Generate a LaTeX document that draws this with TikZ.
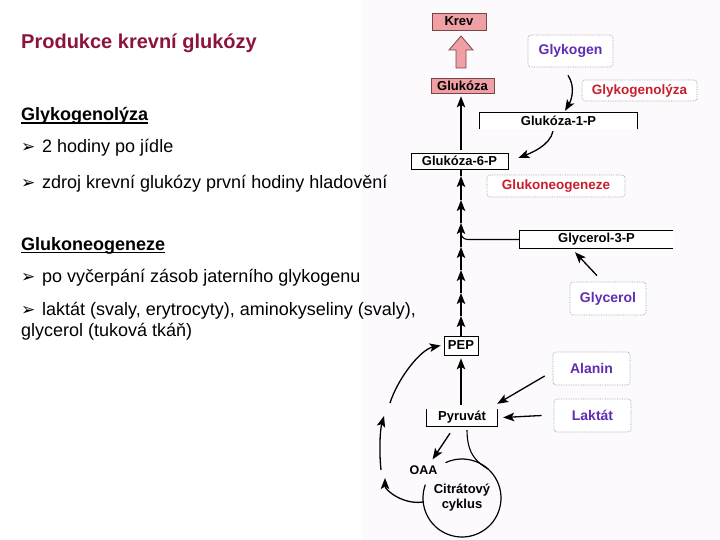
\documentclass[tikz,border=0pt]{standalone}
\usepackage{fontspec}
\setmainfont{Liberation Sans}
\newfontfamily\symfont{DejaVu Sans}
\usetikzlibrary{arrows.meta,calc}
\definecolor{titlered}{RGB}{140,20,58}
\definecolor{labred}{RGB}{200,30,45}
\definecolor{labpurple}{RGB}{95,45,180}
\definecolor{krevfill}{RGB}{240,160,165}
\definecolor{krevdraw}{RGB}{120,70,70}
\definecolor{panelbg}{RGB}{252,250,252}
\definecolor{dotgray}{RGB}{160,155,170}
\tikzset{
  lefttext/.style={anchor=base west, inner sep=0pt, font=\fontsize{18}{21}\selectfont},
  bulletmark/.style={anchor=base west, inner sep=0pt, font=\symfont\fontsize{17}{19}\selectfont},
  pinkbox/.style={draw=krevdraw, fill=krevfill, line width=0.7pt, inner sep=0pt, font=\bfseries\fontsize{13}{15}\selectfont},
  plainbox/.style={draw=black, fill=white, line width=0.7pt, inner sep=0pt, font=\bfseries\fontsize{13}{15}\selectfont},
  openbox/.style={fill=white, inner sep=0pt, font=\bfseries\fontsize{13}{15}\selectfont},
  dotbox/.style={draw=dotgray, densely dotted, fill=white, rounded corners=3pt, line width=0.7pt, inner sep=0pt},
  purplelab/.style={dotbox, text=labpurple, font=\bfseries\fontsize{14}{16}\selectfont},
  redlab/.style={dotbox, text=labred, font=\bfseries\fontsize{13.5}{16}\selectfont},
  arr/.style={line width=1.3pt, -{Stealth[length=11pt,width=8.5pt,inset=2.5pt]}},
  thinline/.style={line width=1.1pt},
}
\begin{document}
\begin{tikzpicture}[x=1pt,y=-1pt]
\useasboundingbox (0,0) rectangle (720,540);
\fill[panelbg] (362,0) rectangle (720,540);

% ---------- left text ----------
\node[anchor=base west, inner sep=0pt, text=titlered, font=\bfseries\fontsize{20}{24}\selectfont] (title) at (21,48.5) {Produkce krevní glukózy};

\node[lefttext, font=\bfseries\fontsize{18}{21}\selectfont] (h1) at (21,120.5) {Glykogenolýza};
\draw[line width=1.3pt] ([yshift=-2.5pt]h1.base west) -- ([yshift=-2.5pt]h1.base east);
\node[bulletmark] (b1) at (21,152.5) {➢};
\node[lefttext] (l1) at (42,152.5) {2 hodiny po jídle};
\node[bulletmark] (b2) at (21,188.5) {➢};
\node[lefttext] (l2) at (42,188.5) {zdroj krevní glukózy první hodiny hladovění};

\node[lefttext, font=\bfseries\fontsize{18}{21}\selectfont] (h2) at (21,250) {Glukoneogeneze};
\draw[line width=1.3pt] ([yshift=-2.5pt]h2.base west) -- ([yshift=-2.5pt]h2.base east);
\node[bulletmark] (b3) at (21,282) {➢};
\node[lefttext] (l3) at (42,282) {po vyčerpání zásob jaterního glykogenu};
\node[bulletmark] (b4) at (21,315) {➢};
\node[lefttext] (l4) at (42,315) {laktát (svaly, erytrocyty), aminokyseliny (svaly),};
\node[lefttext] (l5) at (21,336) {glycerol (tuková tkáň)};

% ---------- diagram nodes ----------
\node[pinkbox, minimum width=54pt, minimum height=17pt] (krev) at (459,21.5) {Krev};
\node[pinkbox, minimum width=63pt, minimum height=15pt] (gluk) at (462.5,85.5) {Glukóza};
\node[purplelab, minimum width=85pt, minimum height=32pt] (glykogen) at (570.5,51) {Glykogen};
\node[redlab, minimum width=115pt, minimum height=21pt] (glyklyza) at (639.5,90.5) {Glykogenolýza};
\node[openbox, minimum width=157pt, minimum height=16pt] (g1p) at (558.5,121) {Glukóza-1-P};
\draw[line width=0.7pt] (g1p.south west) -- (g1p.north west) -- (g1p.north east) -- (g1p.south east);
\node[plainbox, minimum width=97pt, minimum height=16pt] (g6p) at (459.5,161) {Glukóza-6-P};
\node[redlab, minimum width=138pt, minimum height=22pt] (gng) at (556,186) {Glukoneogeneze};
\node[openbox, minimum width=153pt, minimum height=17pt] (g3p) at (596.5,239.5) {Glycerol-3-P};
\draw[line width=0.7pt] (g3p.north east) -- (g3p.north west) -- (g3p.south west) -- (g3p.south east);
\node[purplelab, minimum width=76pt, minimum height=33pt] (glycerol) at (608,298.5) {Glycerol};
\node[plainbox, minimum width=34pt, minimum height=19pt] (pep) at (461,345.5) {PEP};
\node[purplelab, minimum width=77pt, minimum height=33pt] (alanin) at (591.5,368.5) {Alanin};
\node[purplelab, minimum width=77pt, minimum height=33pt] (laktat) at (592.5,415.5) {Laktát};
\node[openbox, minimum width=70pt, minimum height=17pt] (pyr) at (462,417.5) {Pyruvát};
\draw[line width=0.7pt] (pyr.north west) -- (pyr.south west) -- (pyr.south east) -- (pyr.north east);
\node[inner sep=0pt, font=\bfseries\fontsize{12.5}{15}\selectfont] (oaa) at (423.5,470) {OAA};
\node[circle, minimum size=78pt, inner sep=0pt, outer sep=0pt, align=center,
      font=\bfseries\fontsize{13}{15}\selectfont] (cyc) at (462,498) {Citrátový\\cyklus};
% circle outline, open next to OAA
\draw[line width=1.2pt] (cyc.160) arc[start angle=-160, end angle=-475, radius=39];

% ---------- hollow arrow Glukóza -> Krev ----------
\draw[fill=krevfill, draw=krevdraw, line width=0.8pt]
  (456,68) -- (466,68) -- (466,50) -- (473,50) -- (461,36) -- (449,50) -- (456,50) -- cycle;

% ---------- connectors ----------
\draw[arr] ([xshift=-2.5pt,yshift=-8pt]glykogen.south) .. controls +(8,12) and +(6,-10) .. ([xshift=6.5pt,yshift=2pt]g1p.north);
\draw[arr] ([xshift=-5.5pt,yshift=-2pt]g1p.south) .. controls +(-3,15) and +(10,-4) .. ([xshift=10pt,yshift=3pt]g6p.east);
\draw[arr] ([xshift=1.5pt,yshift=3pt]g6p.north) -- ([xshift=-1.5pt,yshift=-3pt]gluk.south);

% chain of steps PEP -> Glukóza-6-P
\coordinate (ch1) at (461,316);
\coordinate (ch2) at (461,293);
\coordinate (ch3) at (461,270);
\coordinate (ch4) at (461,247);
\coordinate (ch5) at (461,223);
\coordinate (ch6) at (461,200);
\coordinate (ch7) at (461,176);
\draw[arr] (pep.north) -- (ch1);
\draw[arr] (ch1) -- (ch2);
\draw[arr] (ch2) -- (ch3);
\draw[arr] (ch3) -- (ch4);
\draw[arr] (ch4) -- (ch5);
\draw[arr] (ch5) -- (ch6);
\draw[arr] (ch6) -- (ch7);
\draw[line width=1.3pt] (ch7) -- ([xshift=1.5pt]g6p.south);

\draw[thinline] (g3p.west) -- ++(-52,0) .. controls +(-5,0) and +(0,4) .. ++(-7,-8);

\draw[arr] ([xshift=-11pt,yshift=6pt]glycerol.north) -- ([xshift=-21.5pt,yshift=-4pt]g3p.south);
\draw[arr] ([xshift=-8pt,yshift=-7.5pt]alanin.west) -- ([yshift=5pt]pyr.north east);
\draw[arr] ([xshift=-12pt]laktat.west) -- ([xshift=6pt]pyr.east);
\draw[arr] ([xshift=-1pt,yshift=4pt]pyr.north) -- ([yshift=-3pt]pep.south);
\draw[arr] ([xshift=-12pt,yshift=-7pt]pyr.south) -- ([xshift=-5pt,yshift=6pt]oaa.north east);
\draw[thinline] ([xshift=5pt,yshift=-4pt]pyr.south) .. controls +(0,25) and +(-10,-6) .. (cyc.48);

\coordinate (lp1) at (385,478);
\coordinate (lp2) at (381,470);
\coordinate (lp3) at (384,416);
\coordinate (lp4) at (390,403);
\draw[arr] ([yshift=-4pt]cyc.west) .. controls +(-20,3) and +(0,12) .. (lp1);
\draw[arr] (lp2) .. controls +(-2,-18) and +(-4,14) .. (lp3);
\draw[arr] (lp4) .. controls +(8,-25) and +(-20,4) .. ([xshift=-3pt]pep.west);
\end{tikzpicture}
\end{document}
